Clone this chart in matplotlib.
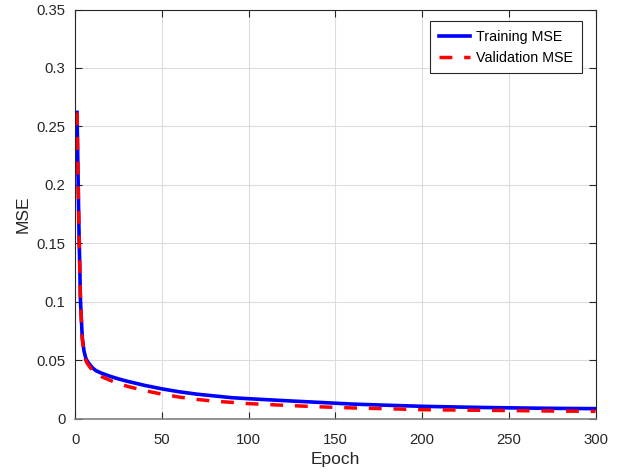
import matplotlib
matplotlib.use("Agg")
import matplotlib.pyplot as plt

epochs = [1, 2, 3, 4, 5, 6, 7, 8, 10, 12, 15, 20, 25, 30, 40, 50, 60, 70, 80, 90,
          100, 120, 140, 160, 180, 200, 220, 240, 260, 280, 300]
train_mse = [0.262, 0.17, 0.10, 0.07, 0.058, 0.052, 0.049, 0.047, 0.0434, 0.041, 0.039,
             0.0363, 0.034, 0.032, 0.0285, 0.0255, 0.023, 0.021, 0.0195, 0.018,
             0.0171, 0.0155, 0.0140, 0.0125, 0.0115, 0.0106, 0.0100, 0.0095, 0.0091,
             0.0088, 0.0086]
val_mse = [0.262, 0.17, 0.10, 0.068, 0.056, 0.050, 0.047, 0.045, 0.041, 0.038, 0.036,
           0.0329, 0.030, 0.0277, 0.024, 0.021, 0.0185, 0.0165, 0.015, 0.014,
           0.0129, 0.0115, 0.0102, 0.0092, 0.0085, 0.0077, 0.0074, 0.0071, 0.0068,
           0.0065, 0.0063]
xticks = [0, 50, 100, 150, 200, 250, 300]
yticks = [0, 0.05, 0.1, 0.15, 0.2, 0.25, 0.3, 0.35]
ytick_labels = ["0", "0.05", "0.1", "0.15", "0.2", "0.25", "0.3", "0.35"]

plt.rcParams['font.family'] = ['Liberation Sans', 'DejaVu Sans']
fig = plt.figure(figsize=(6.23, 4.75), dpi=100)
L, R, B, T = 75.3, 595.5, 418.7, 9.5
ax = fig.add_axes([L / 623, 1 - B / 475, (R - L) / 623, (B - T) / 475])

ax.plot(epochs, train_mse, color=(0, 0, 1), lw=2.6, label="Training MSE")
ax.plot(epochs, val_mse, color=(1, 0, 0), lw=2.5, ls=(0, (3.7, 3.4)), label="Validation MSE")

ax.set_xlim(0, 300)
ax.set_ylim(0, 0.35)
ax.set_xticks(xticks)
ax.set_yticks(yticks)
ax.set_yticklabels(ytick_labels)
ax.grid(True, color="#dcdcdc", lw=0.8)
ax.set_axisbelow(True)
edge = "#262626"
for s in ax.spines.values():
    s.set_color(edge)
    s.set_linewidth(0.8)
ax.spines['bottom'].set_color("#808080")
ax.spines['bottom'].set_linewidth(1.2)
ax.tick_params(direction="in", top=True, right=True, colors=edge, labelsize=10.7,
               length=5, width=0.8)
ax.tick_params(axis="x", pad=10)
ax.tick_params(axis="y", pad=7)
ax.set_xlabel("Epoch", fontsize=12.5, color=edge, labelpad=4)
ax.set_ylabel("MSE", fontsize=12.5, color=edge, labelpad=4)
leg = ax.legend(loc="upper right", fontsize=10.3, frameon=True, fancybox=False,
                edgecolor=edge, framealpha=1, borderpad=0.6, handlelength=2.2,
                handletextpad=0.45, labelspacing=0.5, borderaxespad=0,
                bbox_to_anchor=(1 - 13.5 / (R - L), 1 - 11.5 / (B - T)))
leg.get_frame().set_linewidth(0.8)

fig.savefig("out.png", dpi=100)
